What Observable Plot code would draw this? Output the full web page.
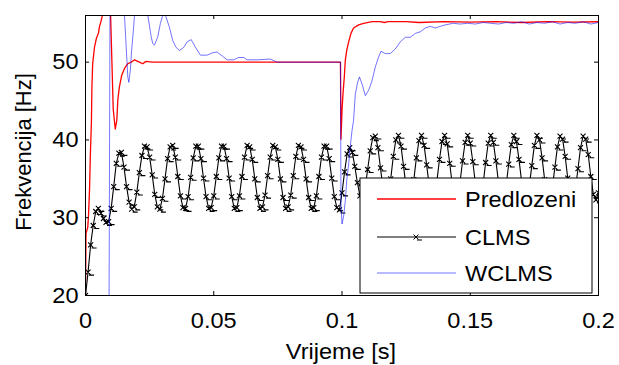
<!DOCTYPE html>
<html>
<head>
<meta charset="utf-8">
<script src="https://cdn.jsdelivr.net/npm/d3@7"></script>
<script src="https://cdn.jsdelivr.net/npm/@observablehq/plot@0.6"></script>
<style>
  html, body { margin: 0; padding: 0; background: #fff; }
  #chart { width: 619px; height: 365px; }
</style>
</head>
<body>
<div id="chart"></div>
<script>
// ---- data ----
const xTicks = [0, 0.05, 0.1, 0.15, 0.2];
const xTickLabels = ["0", "0.05", "0.1", "0.15", "0.2"];
const yTicks = [20, 30, 40, 50];
const yTickLabels = ["20", "30", "40", "50"];
const seriesNames = ["Predlozeni", "CLMS", "WCLMS"];

// Predlozeni (red): [time s, frequency Hz]
const predlozeni = [
  [0,20],[0.0002,28],[0.0009,28.8],[0.0012,30.5],[0.0016,33.9],[0.0019,38.2],[0.0023,42.2],
  [0.0025,46.8],[0.0028,49.8],[0.0035,51.9],[0.0042,53],[0.0051,53.8],[0.0054,54.5],
  [0.0061,55.3],[0.0067,56.2],[0.0080,60],[0.0097,57],[0.0103,50],[0.0108,44],[0.0116,41.4],
  [0.0122,42.5],[0.0126,45.1],[0.0132,46.8],[0.0141,48.3],[0.0152,49.2],[0.0165,49.8],
  [0.0178,50.0],[0.0191,50.3],[0.0210,50.0],[0.0223,49.8],[0.0236,50.1],[0.0260,50],
  [0.0994,50],[0.0996,40.1],[0.1000,43.8],[0.1004,46],[0.1009,48.1],[0.1013,50.3],
  [0.1019,51.6],[0.1026,52.6],[0.1035,53.7],[0.1045,54.4],[0.1065,54.8],[0.1084,55],
  [0.1117,55.2],[0.115,55.2],[0.1165,55.1],[0.118,55.2],[0.125,55.2],[0.13,55.1],
  [0.14,55.2],[0.15,55.15],[0.16,55.2],[0.17,55.1],[0.18,55.2],[0.19,55.15],[0.2,55.2]
];

// CLMS (black, markers): one value per millisecond, t = 0 ... 0.2 s
const clmsStep = 0.001;
const clmsValues = [
  20, 23, 26.5, 29, 30.8, 31.2, 30.6, 29.9, 29.4, 29.5,
  31.2, 34, 37, 38.3, 38.4, 36.5, 34, 32, 31.1, 31.4,
  33.3, 35.8, 38, 39.2, 39.1, 37.8, 35.5, 33, 31.4, 31.1,
  32.5, 35, 37.6, 39.1, 39.3, 37.8, 35.3, 32.8, 31.3, 31.2,
  32.7, 35.2, 37.7, 39.2, 39.2, 37.6, 35.1, 32.7, 31.2, 31.3,
  32.8, 35.3, 37.7, 39.2, 39.2, 37.6, 35.1, 32.7, 31.2, 31.3,
  32.8, 35.3, 37.8, 39.3, 39.1, 37.5, 35, 32.6, 31.2, 31.4,
  32.9, 35.4, 37.8, 39.3, 39.1, 37.5, 35, 32.6, 31.2, 31.4,
  32.9, 35.4, 37.9, 39.3, 39.1, 37.5, 35, 32.6, 31.2, 31.3,
  32.8, 35.3, 37.8, 39.2, 39.2, 37.6, 35.1, 32.7, 31.3, 31.0,
  33.2, 35.9, 38.2, 39.0, 38.4, 36.6, 34.5, 32.8, 32.4, 33.8,
  36.2, 38.6, 40.3, 40.5, 39.0, 36.4, 33.7, 32.4, 32.9, 35.0,
  37.9, 40.0, 40.6, 39.2, 36.6, 33.9, 32.4, 32.8, 34.9, 37.7,
  39.9, 40.6, 39.3, 36.8, 34.1, 32.4, 32.7, 34.7, 37.5, 39.8,
  40.6, 39.5, 37.0, 34.2, 32.5, 32.6, 34.5, 37.3, 39.7, 40.6,
  39.6, 37.2, 34.4, 32.6, 32.5, 34.3, 37.1, 39.6, 40.6, 39.7,
  37.3, 34.6, 32.6, 32.5, 34.2, 36.9, 39.4, 40.6, 39.8, 37.5,
  34.7, 32.7, 32.4, 34.0, 36.7, 39.3, 40.6, 40.0, 37.7, 34.9,
  32.8, 32.4, 33.8, 36.5, 39.1, 40.5, 40.1, 37.9, 35.1, 32.9,
  32.4, 33.7, 36.3, 39.0, 40.5, 40.1, 38.1, 35.3, 33.0, 32.3,
  33.2
];

// WCLMS (blue): [time s, frequency Hz]
const wclms = [
  [0,0],[0.0090,0],[0.0096,62],[0.0146,62],[0.0152,56],[0.0165,48.1],[0.0169,47.4],
  [0.0175,49],[0.0180,51.6],[0.0187,54.2],[0.0191,56],[0.0215,60],[0.0243,56],
  [0.0256,53.3],[0.0262,52.4],[0.0269,52.2],[0.0282,53.3],[0.0292,55],[0.0301,56],
  [0.0308,56.5],[0.0314,55.8],[0.0327,54.5],[0.0340,52.8],[0.0353,51.9],[0.0366,51.5],
  [0.0383,51.9],[0.0396,52.6],[0.0412,52.9],[0.0429,51.9],[0.0448,50.9],[0.0474,50.9],
  [0.0494,51.2],[0.0513,51.3],[0.0533,50.8],[0.0552,50.3],[0.0578,50.3],[0.0597,50.6],
  [0.0617,50.6],[0.0630,50.3],[0.0669,50.3],[0.0721,50.4],[0.0747,50.0],[0.0994,50],
  [0.0996,31.8],[0.1000,29.2],[0.1006,30.1],[0.1013,32.2],[0.1019,35],[0.1026,36.9],
  [0.1032,39.1],[0.1039,41.2],[0.1045,42.5],[0.1052,45.9],[0.1061,47.4],[0.1068,48.1],
  [0.1078,47.2],[0.1091,45.7],[0.1104,46.4],[0.1117,47.6],[0.1130,49.4],[0.1143,50.7],
  [0.1152,51.4],[0.1169,51.1],[0.1188,51.1],[0.1208,51.7],[0.1227,52.6],[0.1247,53.2],
  [0.1266,53.2],[0.1286,53.7],[0.1305,53.9],[0.1325,54.4],[0.1344,54.6],[0.1364,54.4],
  [0.1383,54.6],[0.1403,54.8],[0.1434,55.0],[0.146,54.9],[0.149,55.0],[0.152,54.9],
  [0.155,55.1],[0.158,55.0],[0.161,54.9],[0.164,55.1],[0.167,55.0],[0.170,55.2],
  [0.173,54.9],[0.176,55.1],[0.179,55.0],[0.182,55.2],[0.185,54.9],[0.188,55.1],
  [0.191,55.0],[0.194,55.2],[0.197,54.9],[0.2,55.1]
];

// ---- build tables ----
const redData = predlozeni.map(([t, f]) => ({t, f}));
const blueData = wclms.map(([t, f]) => ({t, f}));
const clmsData = clmsValues.map((f, i) => ({t: i * clmsStep, f}));

const FONT = "Liberation Sans, Arial, Helvetica, sans-serif";
const W = 619, H = 365;
const mL = 85, mR = 21, mT = 15, mB = 70;
const innerW = W - mL - mR, innerH = H - mT - mB;
const TICK = 4;

// custom MATLAB-like marker: an "x" with a small dash
const xDash = {
  draw(context) {
    const s = 2.5;
    context.moveTo(-s, -s); context.lineTo(s, s);
    context.moveTo(-s, s); context.lineTo(s, -s);
    context.moveTo(1, 3); context.lineTo(6, 3);
  }
};

const chart = Plot.plot({
  width: W, height: H,
  marginLeft: mL, marginRight: mR, marginTop: mT, marginBottom: mB,
  style: {fontFamily: FONT, fontSize: "22px", background: "white", color: "black"},
  x: {domain: [0, 0.2]},
  y: {domain: [20, 56]},
  marks: [
    Plot.line(redData, {x: "t", y: "f", stroke: "#ff0000", strokeWidth: 1.3, clip: true}),
    Plot.line(clmsData, {x: "t", y: "f", stroke: "black", strokeWidth: 1.1, clip: true}),
    Plot.dot(clmsData, {x: "t", y: "f", symbol: xDash, fill: "none", stroke: "black", strokeWidth: 1.1, clip: true}),
    Plot.line(blueData, {x: "t", y: "f", stroke: "#0000ff", strokeOpacity: 0.55, strokeWidth: 1, clip: true}),
    Plot.frame({stroke: "black", strokeWidth: 1}),
    Plot.tickX(xTicks, {x: d => d, insetTop: innerH - TICK, stroke: "black"}),
    Plot.tickX(xTicks, {x: d => d, insetBottom: innerH - TICK, stroke: "black"}),
    Plot.tickY(yTicks, {y: d => d, insetRight: innerW - TICK, stroke: "black"}),
    Plot.tickY(yTicks, {y: d => d, insetLeft: innerW - TICK, stroke: "black"}),
    Plot.axisX(xTicks, {tickSize: 0, tickPadding: 17, tickFormat: (d, i) => xTickLabels[i], label: null, fontSize: 22}),
    Plot.axisY(yTicks, {tickSize: 0, tickPadding: 7, tickFormat: (d, i) => yTickLabels[i], label: null, fontSize: 22})
  ]
});

document.getElementById("chart").appendChild(chart);

const svg = d3.select(chart);

// axis titles
svg.append("text")
  .attr("transform", "translate(23,152) rotate(-90)")
  .attr("text-anchor", "middle").attr("dy", "0.35em")
  .style("font-family", FONT).style("font-size", "22px")
  .text("Frekvencija [Hz]");
svg.append("text")
  .attr("x", 341).attr("y", 359)
  .attr("text-anchor", "middle")
  .style("font-family", FONT).style("font-size", "22px").attr("class", "hstretch")
  .text("Vrijeme [s]");

// legend box
const lg = svg.append("g");
const lx = 360, ly = 178, lw = 232, lh = 115;
lg.append("rect").attr("x", lx).attr("y", ly).attr("width", lw).attr("height", lh)
  .attr("fill", "white").attr("stroke", "black").attr("stroke-width", 1);
const rowsY = [199, 237, 273];
const styles = [
  {stroke: "#ff0000", op: 1, w: 1.3, marker: false},
  {stroke: "black", op: 1, w: 1, marker: true},
  {stroke: "#0000ff", op: 0.55, w: 1, marker: false}
];
seriesNames.forEach((name, i) => {
  const y = rowsY[i], s = styles[i];
  lg.append("line").attr("x1", 377).attr("x2", 456).attr("y1", y).attr("y2", y)
    .attr("stroke", s.stroke).attr("stroke-opacity", s.op).attr("stroke-width", s.w);
  if (s.marker) {
    const p = d3.path(); xDash.draw(p);
    lg.append("path").attr("d", p.toString()).attr("transform", `translate(416,${y})`)
      .attr("fill", "none").attr("stroke", "black").attr("stroke-width", 1);
  }
  lg.append("text").attr("x", 465).attr("y", y).attr("dy", "0.35em")
    .attr("text-anchor", "start")
    .style("font-family", FONT).style("font-size", "22px").attr("class", "hstretch")
    .text(name);
});

// the reference's horizontal text is slightly wider than the font: stretch it a bit
const stretch = el => {
  const w = el.getComputedTextLength();
  el.setAttribute("textLength", (w * 1.07).toFixed(1));
  el.setAttribute("lengthAdjust", "spacingAndGlyphs");
};
svg.selectAll('g[aria-label="x-axis tick label"] text').each(function() { stretch(this); });
svg.selectAll('g[aria-label="y-axis tick label"] text').each(function() { stretch(this); });
svg.selectAll("text.hstretch").each(function() { stretch(this); });
</script>
</body>
</html>
